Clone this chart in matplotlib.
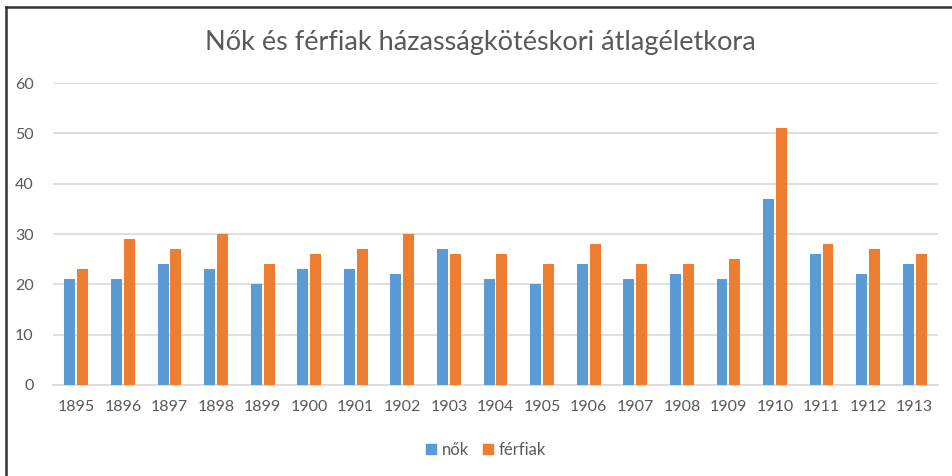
import numpy as np
import matplotlib
matplotlib.use('Agg')
import matplotlib.pyplot as plt
from matplotlib.lines import Line2D

years = ['1895', '1896', '1897', '1898', '1899', '1900', '1901', '1902', '1903', '1904',
         '1905', '1906', '1907', '1908', '1909', '1910', '1911', '1912', '1913']
nok = [21, 21, 24, 23, 20, 23, 23, 22, 27, 21, 20, 24, 21, 22, 21, 37, 26, 22, 24]
ferfiak = [23, 29, 27, 30, 24, 26, 27, 30, 26, 26, 24, 28, 24, 24, 25, 51, 28, 27, 26]

blue = '#5B9BD5'
orange = '#ED7D31'
text_col = '#595959'

plt.rcParams['font.family'] = ['Lato', 'DejaVu Sans']

fig = plt.figure(figsize=(9.52, 4.76), dpi=100)
ax = fig.add_axes([0.0557, 0.1912, 0.9296, 0.6344])

x = np.arange(len(years))
w = 0.235
ax.bar(x - 0.138, nok, width=w, color=blue, label='nők', zorder=3)
ax.bar(x + 0.138, ferfiak, width=w, color=orange, label='férfiak', zorder=3)

ax.set_xlim(-0.5, len(years) - 0.5)
ax.set_ylim(0, 60)
ax.set_yticks(range(0, 61, 10))
ax.set_xticks(x)
ax.set_xticklabels(years)
ax.grid(axis='y', color='#D9D9D9', linewidth=1.2, zorder=0)
for s in ['top', 'right', 'left']:
    ax.spines[s].set_visible(False)
ax.spines['bottom'].set_color('#D9D9D9')
ax.spines['bottom'].set_linewidth(1.2)
ax.tick_params(axis='both', length=0, labelsize=11.5, labelcolor=text_col)
ax.tick_params(axis='x', pad=11)
ax.tick_params(axis='y', pad=14)

fig.text(0.505, 0.91, 'Nők és férfiak házasságkötéskori átlagéletkora',
         ha='center', va='center', fontsize=19.5, color=text_col)

handles = [Line2D([], [], marker='s', linestyle='', color=blue, markersize=7.5),
           Line2D([], [], marker='s', linestyle='', color=orange, markersize=7.5)]
fig.legend(handles, ['nők', 'férfiak'], loc='center', bbox_to_anchor=(0.51, 0.055),
           ncol=2, frameon=False, fontsize=12, labelcolor=text_col,
           handlelength=0.7, handletextpad=0.3, columnspacing=0.8)

# frame lines on left and top, as in the screenshot
fig.add_artist(Line2D([0.0068, 0.0068], [0, 0.985], transform=fig.transFigure,
                      color='#333333', linewidth=1.8))
fig.add_artist(Line2D([0.0068, 1], [0.985, 0.985], transform=fig.transFigure,
                      color='#333333', linewidth=1.8))

fig.savefig('out.png', dpi=100)
